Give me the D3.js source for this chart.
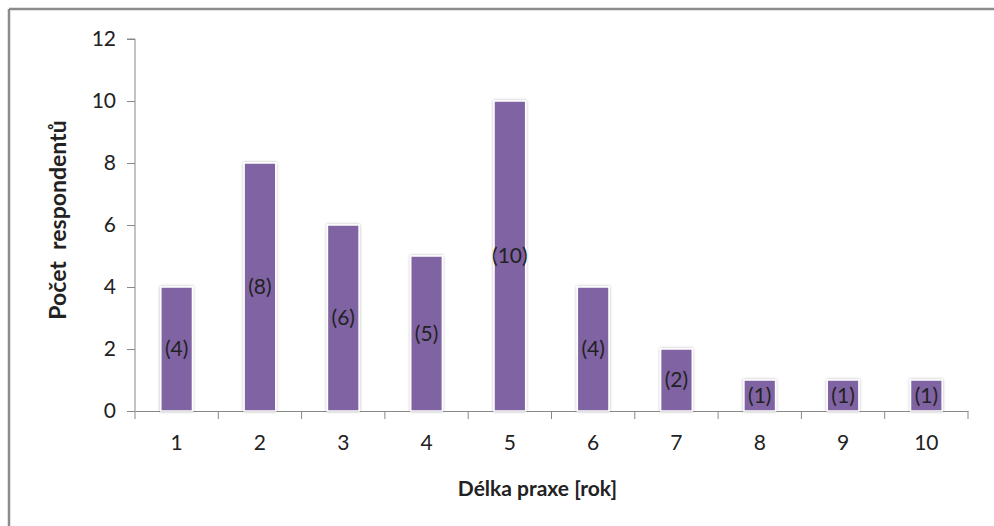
<!DOCTYPE html>
<html>
<head>
<meta charset="utf-8">
<script src="https://cdn.jsdelivr.net/npm/d3@7"></script>
<style>
  body { margin: 0; background: #fff; }
  text { font-family: Lato, "Open Sans", sans-serif; fill: #222; }
</style>
</head>
<body>
<div id="viz"></div>
<script>
const width = 994;
const height = 526;
const margin = {top: 39, right: 26, bottom: 115, left: 135};
const barColor = '#8064a2';
const fontSize = '21px';

// data
const years = ['1', '2', '3', '4', '5', '6', '7', '8', '9', '10'];
const respondents = [4, 8, 6, 5, 10, 4, 2, 1, 1, 1];
const yTicks = [0, 2, 4, 6, 8, 10, 12];

const svg = d3.select('#viz')
    .append('svg')
    .attr('width', width)
    .attr('height', height);

// frame lines (top and left only)
svg.append('line')
    .attr('x1', 9).attr('y1', 9).attr('x2', width).attr('y2', 9)
    .attr('stroke', '#8c8c8c').attr('stroke-width', 2.5);
svg.append('line')
    .attr('x1', 9).attr('y1', 9).attr('x2', 9).attr('y2', height)
    .attr('stroke', '#8c8c8c').attr('stroke-width', 2.5);

const x = d3.scaleBand()
    .domain(years)
    .range([margin.left, width - margin.right])
    .paddingInner(0.62)
    .paddingOuter(0.31);

const y = d3.scaleLinear()
    .domain([0, 12])
    .range([height - margin.bottom, margin.top]);

// y axis
const yAxis = svg.append('g')
    .attr('transform', `translate(${margin.left}, 0)`)
    .call(d3.axisLeft(y).tickValues(yTicks).tickSize(8).tickPadding(11));
yAxis.select('.domain').attr('stroke', '#888').attr('d', `M-8,${y(12)}H0V${y(0)}`);
yAxis.selectAll('.tick line').attr('stroke', '#888');
yAxis.selectAll('.tick text').style('font-size', fontSize).attr('fill', '#222');

// x axis
const xAxis = svg.append('g')
    .attr('transform', `translate(0, ${height - margin.bottom})`)
    .call(d3.axisBottom(x).tickSize(0).tickPadding(24));
xAxis.select('.domain').attr('stroke', '#888');
xAxis.selectAll('.tick line').remove();
xAxis.selectAll('.tick text').style('font-size', fontSize).attr('fill', '#222');

// tick marks between categories
const step = x.step();
svg.append('g')
    .selectAll('line')
    .data(d3.range(years.length + 1))
    .join('line')
        .attr('x1', i => x(years[0]) - step * x.paddingOuter() + i * step)
        .attr('x2', i => x(years[0]) - step * x.paddingOuter() + i * step)
        .attr('y1', y(0))
        .attr('y2', y(0) + 8)
        .attr('stroke', '#888');

// soft shadow for the bars
const defs = svg.append('defs');
const f = defs.append('filter').attr('id', 'glow')
    .attr('x', '-30%').attr('y', '-10%').attr('width', '160%').attr('height', '120%');
f.append('feDropShadow').attr('dx', 0).attr('dy', 0).attr('stdDeviation', 1.6)
    .attr('flood-color', '#000').attr('flood-opacity', 0.3);

// bars
svg.append('g')
    .selectAll('rect')
    .data(respondents)
    .join('rect')
        .attr('x', (d, i) => x(years[i]))
        .attr('y', d => y(d))
        .attr('width', x.bandwidth())
        .attr('height', d => y(0) - y(d))
        .attr('fill', barColor)
        .attr('stroke', '#fff')
        .attr('stroke-width', 1.5)
        .attr('filter', 'url(#glow)');

// value labels
svg.append('g')
    .selectAll('text')
    .data(respondents)
    .join('text')
        .attr('x', (d, i) => x(years[i]) + x.bandwidth() / 2)
        .attr('y', d => (y(d) + y(0)) / 2)
        .attr('dy', '0.35em')
        .attr('text-anchor', 'middle')
        .style('font-size', fontSize)
        .text(d => `(${d})`);

// axis titles
svg.append('text')
    .attr('transform', `translate(66, 220) rotate(-90)`)
    .attr('text-anchor', 'middle')
    .attr('xml:space', 'preserve')
    .style('white-space', 'pre')
    .style('font-size', '23px')
    .style('font-weight', 'bold')
    .text('Počet  respondentů');

svg.append('text')
    .attr('x', (margin.left + width - margin.right) / 2 - 14)
    .attr('y', 496)
    .attr('text-anchor', 'middle')
    .style('font-size', fontSize)
    .style('font-weight', 'bold')
    .text('Délka praxe [rok]');
</script>
</body>
</html>
